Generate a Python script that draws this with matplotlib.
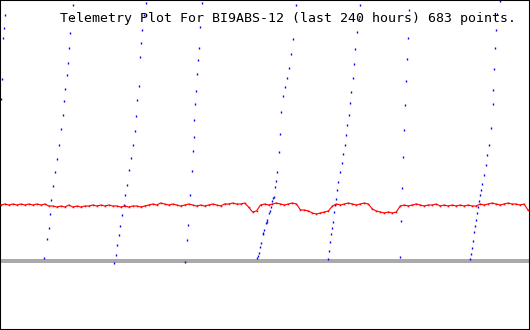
import numpy as np
import matplotlib
matplotlib.use("Agg")
import matplotlib.pyplot as plt

title = "Telemetry Plot For BI9ABS-12 (last 240 hours) 683 points."

# red trace, one reading every 240/132 hours
red_hours = np.linspace(0, 240, 133)
red_values = [
    56, 57, 56, 57, 56, 57, 56, 57, 56, 57,
    56, 57, 55, 55, 54, 55, 54, 56, 54, 55,
    54, 55, 55, 56, 55, 56, 55, 56, 55, 55,
    54, 55, 54, 55, 55, 54, 55, 56, 57, 56,
    58, 57, 56, 57, 56, 55, 56, 57, 56, 55,
    56, 55, 56, 57, 56, 55, 57, 57, 58, 57,
    57, 58, 54, 49, 50, 56, 57, 56, 57, 58,
    57, 56, 57, 58, 57, 51, 51, 50, 48, 47,
    48, 49, 50, 55, 57, 56, 57, 58, 57, 56,
    57, 58, 57, 52, 50, 49, 48, 49, 48, 49,
    55, 56, 55, 56, 57, 56, 55, 56, 56, 57,
    55, 56, 55, 56, 55, 56, 55, 56, 55, 55,
    57, 56, 57, 58, 57, 56, 57, 58, 57, 57,
    56, 57, 51,
]

# blue trace (wrapping counter), visible samples of each ramp
blue_h0 = [0.0, 0.59, 1.05, 1.50, 1.82]
blue_v0 = [162, 182, 223, 233, 246]
blue_h1 = [19.72, 20.95, 21.68, 22.32, 22.95, 23.68, 24.59, 25.41, 26.64, 27.32,
           28.14, 28.78, 29.24, 29.88, 30.33, 30.79, 31.42, 32.24, 32.93]
blue_v1 = [3, 22, 33, 47, 61, 75, 89, 102, 116, 132,
           146, 160, 172, 186, 198, 213, 228, 243, 256]
blue_h2 = [51.55, 52.15, 52.83, 53.51, 54.19, 54.88, 55.83, 56.47, 57.38, 58.29, 59.20,
           60.02, 60.80, 61.39, 62.16, 62.62, 63.08, 63.71, 64.17, 64.90, 66.17]
blue_v2 = [-2, 6, 16, 26, 35, 46, 56, 66, 76, 91, 103,
           116, 130, 145, 161, 175, 204, 218, 231, 246, 258]
blue_h3 = [83.80, 84.48, 85.16, 86.07, 86.76, 87.26, 87.71, 88.03, 88.49, 88.94,
           89.40, 89.85, 90.31, 90.77, 91.40]
blue_v3 = [-1, 21, 36, 66, 90, 110, 124, 141, 157, 170,
           187, 201, 213, 234, 258]
blue_h4 = [116.45, 116.91, 117.36, 117.95, 118.41, 119.18, 119.46, 119.91, 120.55, 121.00,
           121.28, 121.92, 122.37, 122.83, 123.28, 123.74, 124.19, 124.65, 125.10, 125.88,
           126.47, 127.06, 127.52, 128.43, 129.11, 130.16, 131.12, 131.84, 133.07, 134.17]
blue_v4 = [3, 5, 8, 14, 18, 27, 28, 31, 38, 39,
           41, 48, 50, 54, 60, 63, 64, 74, 80, 89,
           109, 127, 149, 165, 174, 183, 193, 207, 222, 256]
blue_h5 = [149.06, 149.51, 149.97, 150.42, 150.88, 151.33, 151.79, 152.25, 152.70, 153.16,
           153.61, 154.39, 155.07, 155.75, 156.48, 157.12, 157.71, 158.30, 158.94, 159.58,
           160.17, 160.76, 161.40, 162.04, 162.95, 163.54]
blue_v5 = [2, 10, 19, 27, 33, 39, 49, 56, 62, 71,
           79, 89, 98, 107, 116, 126, 136, 146, 158, 169,
           183, 197, 212, 229, 242, 256]
blue_h6 = [181.85, 182.30, 182.76, 183.08, 183.53, 184.13, 184.58, 185.04, 185.49, 185.81]
blue_v6 = [4, 40, 73, 104, 131, 156, 180, 202, 223, 251]
blue_h7 = [213.59, 214.05, 214.50, 214.96, 215.55, 216.00, 216.46, 216.92, 217.37, 217.83,
           218.28, 218.74, 219.19, 219.97, 220.65, 221.42, 222.20, 223.24, 223.93, 224.20,
           224.66, 225.11, 225.57, 226.07, 227.25]
blue_v7 = [2, 7, 13, 20, 29, 35, 41, 48, 54, 60,
           66, 71, 77, 86, 96, 106, 116, 133, 157, 171,
           192, 213, 231, 247, 260]

blue_hours = blue_h0 + blue_h1 + blue_h2 + blue_h3 + blue_h4 + blue_h5 + blue_h6 + blue_h7
blue_values = blue_v0 + blue_v1 + blue_v2 + blue_v3 + blue_v4 + blue_v5 + blue_v6 + blue_v7

fig = plt.figure(figsize=(5.3, 3.3), dpi=100)
ax = fig.add_axes([0, 0, 1, 1])
ax.set_xlim(-0.455, 240.9)
ax.set_ylim(-69, 261)

# zero line
ax.axhline(0, color="#aaaaaa", lw=1.6, zorder=1, antialiased=False)

ax.plot(blue_hours, blue_values, ls="none", marker="|", ms=1.8, mew=1.0,
        color="blue", zorder=2, antialiased=False)
ax.plot(red_hours, red_values, color="red", lw=0.8, zorder=3,
        marker="s", ms=1.1, mew=0)

ax.text(60 / 530, 1 - 22 / 330, title, transform=ax.transAxes,
        family="DejaVu Sans Mono", fontsize=9.5, color="black",
        ha="left", va="baseline", zorder=4)

ax.set_xticks([])
ax.set_yticks([])
for s in ax.spines.values():
    s.set_color("black")
    s.set_linewidth(1.5)

fig.savefig("out.png", dpi=100, facecolor="white")
